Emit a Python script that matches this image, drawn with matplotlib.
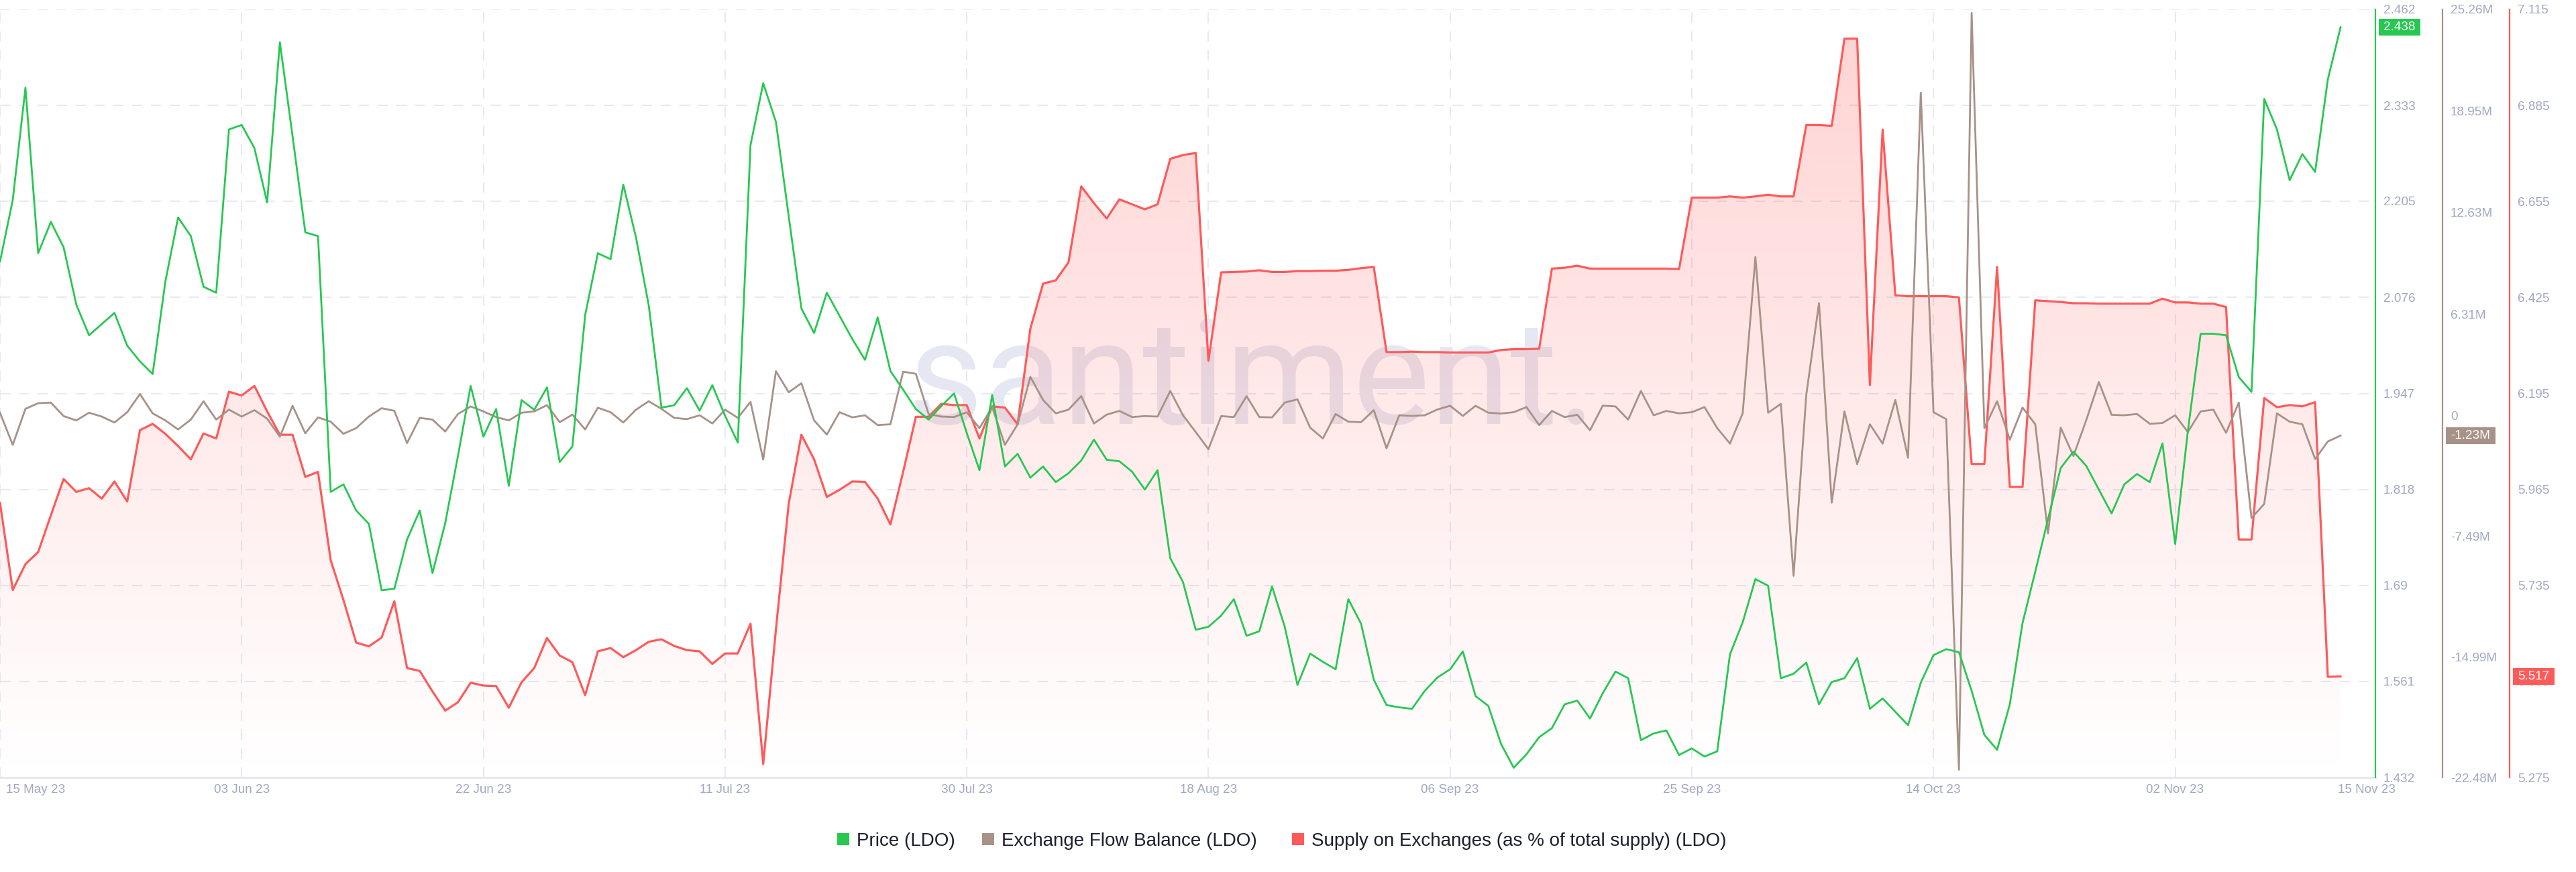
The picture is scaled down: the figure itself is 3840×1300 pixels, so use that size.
import numpy as np
import pandas as pd
import matplotlib
matplotlib.use("Agg")
import matplotlib.pyplot as plt
import matplotlib.dates as mdates
import matplotlib.transforms as mtransforms
from matplotlib.patches import Rectangle

# ---------------- data ----------------
start_date = "2023-05-15"
end_date = "2023-11-15"

price = [
    2.124, 2.206, 2.357, 2.135, 2.177, 2.143, 2.066, 2.025, 2.040, 2.055,
    2.011, 1.990, 1.973, 2.097, 2.183, 2.158, 2.090, 2.082, 2.301, 2.307,
    2.276, 2.203, 2.418, 2.292, 2.163, 2.158, 1.815, 1.825, 1.790, 1.772,
    1.683, 1.685, 1.751, 1.790, 1.706, 1.773, 1.863, 1.957, 1.889, 1.926,
    1.823, 1.938, 1.925, 1.955, 1.855, 1.876, 2.052, 2.135, 2.127, 2.227,
    2.156, 2.065, 1.928, 1.931, 1.954, 1.924, 1.958, 1.917, 1.881, 2.280,
    2.363, 2.311, 2.185, 2.061, 2.028, 2.082, 2.051, 2.020, 1.992, 2.049,
    1.977, 1.952, 1.926, 1.912, 1.930, 1.947, 1.894, 1.844, 1.945, 1.849,
    1.866, 1.834, 1.849, 1.828, 1.840, 1.857, 1.885, 1.858, 1.856, 1.842,
    1.818, 1.844, 1.726, 1.694, 1.630, 1.634, 1.649, 1.671, 1.622, 1.628,
    1.688, 1.634, 1.556, 1.598, 1.587, 1.577, 1.671, 1.638, 1.563, 1.529,
    1.526, 1.524, 1.548, 1.566, 1.577, 1.601, 1.541, 1.528, 1.477, 1.445,
    1.463, 1.486, 1.498, 1.530, 1.535, 1.511, 1.545, 1.574, 1.565, 1.482,
    1.491, 1.495, 1.462, 1.471, 1.460, 1.467, 1.597, 1.640, 1.698, 1.689,
    1.565, 1.571, 1.586, 1.530, 1.560, 1.565, 1.592, 1.524, 1.538, 1.520,
    1.502, 1.559, 1.596, 1.604, 1.600, 1.548, 1.489, 1.469, 1.530, 1.639,
    1.708, 1.778, 1.847, 1.869, 1.850, 1.818, 1.786, 1.825, 1.839, 1.828,
    1.880, 1.745, 1.897, 2.027, 2.027, 2.025, 1.969, 1.949, 2.342, 2.301,
    2.233, 2.268, 2.244, 2.368, 2.438,
]

exchange_flow_m = [
    0.19, -1.81, 0.43, 0.78, 0.82, -0.02, -0.29, 0.19, -0.05, -0.42,
    0.22, 1.35, 0.15, -0.29, -0.85, -0.24, 0.90, -0.24, 0.38, -0.05,
    0.35, -0.18, -1.30, 0.62, -1.09, -0.10, -0.37, -1.12, -0.77, -0.05,
    0.47, 0.31, -1.70, -0.13, -0.24, -0.98, 0.11, 0.58, 0.27, -0.08,
    -0.29, 0.19, 0.27, 0.66, -0.40, 0.07, -0.85, 0.50, 0.22, -0.42,
    0.38, 0.90, 0.43, -0.13, -0.21, 0.03, -0.48, 0.38, -0.13, 0.86,
    -2.72, 2.77, 1.46, 2.02, -0.29, -1.17, 0.22, -0.10, 0.03, -0.58,
    -0.53, 2.74, 2.61, 0.11, -0.05, -0.08, 0.22, -0.77, 0.54, -1.81,
    -0.53, 2.42, 0.98, 0.15, 0.38, 1.22, -0.48, 0.07, 0.30, -0.08,
    -0.02, -0.05, 1.54, 0.03, -1.01, -2.08, -0.02, -0.08, 1.22, -0.08,
    -0.10, 0.82, 1.02, -0.74, -1.41, 0.11, -0.37, -0.40, 0.35, -2.02,
    0.03, -0.01, 0.03, 0.39, 0.62, -0.01, 0.62, 0.19, 0.14, 0.22,
    0.54, -0.58, 0.30, -0.08, 0.06, -0.90, 0.63, 0.58, -0.24, 1.54,
    0.03, 0.30, 0.15, 0.22, 0.54, -0.77, -1.73, 0.15, 9.87, 0.19,
    0.74, -9.95, 1.30, 7.00, -5.40, 0.27, -3.01, -0.53, -1.73, 0.98,
    -2.61, 20.09, 0.22, -0.21, -22.00, 25.04, -0.77, 0.90, -1.49, 0.51,
    -0.53, -7.31, -0.74, -2.50, -0.29, 2.10, 0.06, 0.03, 0.11, -0.50,
    -0.45, 0.03, -1.01, 0.27, 0.38, -1.06, 0.82, -6.36, -5.48, 0.15,
    -0.37, -0.53, -2.69, -1.60, -1.23,
]

supply_pct = [
    5.933, 5.724, 5.786, 5.815, 5.903, 5.990, 5.959, 5.968, 5.943, 5.984,
    5.936, 6.107, 6.122, 6.098, 6.069, 6.037, 6.099, 6.087, 6.199, 6.190,
    6.213, 6.152, 6.096, 6.096, 5.995, 6.007, 5.795, 5.700, 5.598, 5.589,
    5.610, 5.697, 5.537, 5.530, 5.481, 5.435, 5.455, 5.502, 5.495, 5.494,
    5.442, 5.503, 5.537, 5.609, 5.567, 5.551, 5.472, 5.577, 5.585, 5.563,
    5.580, 5.600, 5.606, 5.590, 5.580, 5.577, 5.547, 5.572, 5.572, 5.643,
    5.307, 5.630, 5.930, 6.096, 6.037, 5.947, 5.964, 5.984, 5.983, 5.943,
    5.881, 6.007, 6.139, 6.139, 6.170, 6.167, 6.167, 6.087, 6.164, 6.161,
    6.121, 6.350, 6.458, 6.466, 6.509, 6.691, 6.651, 6.614, 6.660, 6.648,
    6.636, 6.648, 6.757, 6.766, 6.771, 6.273, 6.485, 6.486, 6.487, 6.490,
    6.486, 6.486, 6.488, 6.488, 6.489, 6.489, 6.491, 6.495, 6.498, 6.294,
    6.294, 6.295, 6.294, 6.294, 6.293, 6.293, 6.293, 6.293, 6.299, 6.301,
    6.301, 6.302, 6.494, 6.496, 6.501, 6.494, 6.494, 6.494, 6.494, 6.494,
    6.494, 6.494, 6.493, 6.664, 6.664, 6.664, 6.667, 6.664, 6.667, 6.671,
    6.667, 6.667, 6.838, 6.838, 6.836, 7.045, 7.045, 6.215, 6.827, 6.430,
    6.428, 6.428, 6.428, 6.428, 6.425, 6.026, 6.026, 6.498, 5.971, 5.971,
    6.418, 6.416, 6.414, 6.411, 6.411, 6.410, 6.410, 6.410, 6.410, 6.410,
    6.422, 6.413, 6.413, 6.410, 6.410, 6.402, 5.845, 5.845, 6.184, 6.162,
    6.167, 6.164, 6.174, 5.516, 5.517,
]

price_ticks = [1.432, 1.561, 1.69, 1.818, 1.947, 2.076, 2.205, 2.333, 2.462]
price_tick_labels = ["1.432", "1.561", "1.69", "1.818", "1.947", "2.076", "2.205", "2.333", "2.462"]
flow_ticks = [-22.48, -14.99, -7.49, 0.0, 6.31, 12.63, 18.95, 25.26]
flow_tick_labels = ["-22.48M", "-14.99M", "-7.49M", "0", "6.31M", "12.63M", "18.95M", "25.26M"]
supply_ticks = [5.275, 5.505, 5.735, 5.965, 6.195, 6.425, 6.655, 6.885, 7.115]
supply_tick_labels = ["5.275", "5.505", "5.735", "5.965", "6.195", "6.425", "6.655", "6.885", "7.115"]
date_ticks = ["2023-05-15", "2023-06-03", "2023-06-22", "2023-07-11", "2023-07-30",
              "2023-08-18", "2023-09-06", "2023-09-25", "2023-10-14", "2023-11-02",
              "2023-11-15"]
date_tick_labels = ["15 May 23", "03 Jun 23", "22 Jun 23", "11 Jul 23", "30 Jul 23",
                    "18 Aug 23", "06 Sep 23", "25 Sep 23", "14 Oct 23", "02 Nov 23",
                    "15 Nov 23"]
series_names = ["Price (LDO)", "Exchange Flow Balance (LDO)",
                "Supply on Exchanges (as % of total supply) (LDO)"]
last_price_label = "2.438"
last_flow_label = "-1.23M"
last_supply_label = "5.517"

# ---------------- style ----------------
GREEN = "#27c852"
BROWN = "#a89187"
RED = "#ff5a5a"
TICK = "#a0a8c4"
GRID = "#e7e9f3"
TEXT = "#1c1f30"

plt.rcParams["font.family"] = ["Liberation Sans", "DejaVu Sans"]

W, H = 3840, 1300
AX_L, AX_R, AX_T, AX_B = 0, 3541, 14, 1159

fig = plt.figure(figsize=(W / 100, H / 100), dpi=100)
fig.patch.set_facecolor("white")
rect = [AX_L / W, 1 - AX_B / H, (AX_R - AX_L) / W, (AX_B - AX_T) / H]
ax_s = fig.add_axes(rect)
ax_f = ax_s.twinx()
ax_p = ax_s.twinx()
for a in (ax_f, ax_p):
    a.patch.set_visible(False)

dates = pd.date_range(start_date, end_date, freq="D")
xnum = mdates.date2num(dates)
px_per_day = 18.962
x_min = xnum[0]
x_max = xnum[0] + (AX_R - AX_L) / px_per_day

s_lo, s_hi = supply_ticks[0], supply_ticks[-1]

# grid
for v in supply_ticks[1:]:
    ax_s.axhline(v, color=GRID, lw=1.5, ls=(0, (7.5, 6)), zorder=0)
for d in date_ticks[:-1]:
    ax_s.axvline(mdates.date2num(pd.Timestamp(d)), color=GRID, lw=1.5,
                 ls=(0, (7.5, 6)), zorder=0)

# watermark
ax_s.text(0.527, 0.46, "santiment.", transform=ax_s.transAxes, ha="center",
          va="baseline", fontsize=156, family=["Roboto", "DejaVu Sans"],
          fontweight="normal", color="#e5e8f2", zorder=0.5)

# supply gradient area
poly = ax_s.fill_between(xnum, supply_pct, s_lo, facecolor="none",
                         edgecolor="none")
clip = poly.get_paths()[0]
grad = np.zeros((256, 1, 4))
grad[..., 0] = 1.0
grad[..., 1] = 0.353
grad[..., 2] = 0.353
grad[:, 0, 3] = np.linspace(0.0, 0.27, 256)
im = ax_s.imshow(grad, extent=[xnum[0], xnum[-1], s_lo, s_hi], origin="lower",
                 aspect="auto", interpolation="bilinear", zorder=1)
im.set_clip_path(clip, transform=ax_s.transData)
ax_s.plot(xnum, supply_pct, color=RED, lw=2.3, zorder=3, solid_joinstyle="round")

ax_f.plot(xnum, exchange_flow_m, color=BROWN, lw=2.0, zorder=3, solid_joinstyle="round")
ax_p.plot(xnum, price, color=GREEN, lw=2.0, zorder=3, solid_joinstyle="round")

# limits
ax_s.set_xlim(x_min, x_max)
ax_s.set_ylim(s_lo, s_hi)
ax_f.set_ylim(flow_ticks[0], flow_ticks[-1])
ax_p.set_ylim(price_ticks[0], price_ticks[-1])
ax_s.set_xticks([])

# spines / ticks
spine_specs = [(ax_p, GREEN, 0), (ax_f, BROWN, 100), (ax_s, RED, 200)]
for a, col, off in spine_specs:
    for side in ("top", "left", "bottom"):
        a.spines[side].set_visible(False)
    a.yaxis.tick_right()
    a.spines["right"].set_visible(True)
    a.spines["right"].set_position(("axes", 1 + off / (AX_R - AX_L)))
    a.spines["right"].set_color(col)
    a.spines["right"].set_linewidth(1.6)
    a.tick_params(axis="y", length=0, pad=8.5, labelsize=13.6, labelcolor=TICK)
ax_s.spines["bottom"].set_visible(True)
ax_s.spines["bottom"].set_color("#e3e6ef")
ax_s.spines["bottom"].set_linewidth(2.0)

ax_p.set_yticks(price_ticks)
ax_p.set_yticklabels(price_tick_labels)
ax_f.set_yticks(flow_ticks)
ax_f.set_yticklabels(flow_tick_labels)
ax_s.set_yticks(supply_ticks)
ax_s.set_yticklabels(supply_tick_labels)

# date labels
btrans = mtransforms.blended_transform_factory(ax_s.transData, ax_s.transAxes)
for i, (d, lab) in enumerate(zip(date_ticks, date_tick_labels)):
    xv = mdates.date2num(pd.Timestamp(d))
    if i == 0:
        ax_s.text(xv + 0.5, -0.0165, lab, transform=btrans, ha="left", va="center",
                  fontsize=13.6, color=TICK, clip_on=False)
    elif i == len(date_ticks) - 1:
        ax_s.text(xv - 0.2, -0.0165, lab, transform=btrans, ha="left", va="center",
                  fontsize=13.6, color=TICK, clip_on=False)
    else:
        ax_s.text(xv, -0.0165, lab, transform=btrans, ha="center", va="center",
                  fontsize=13.6, color=TICK, clip_on=False)


# last value tags
def tag(ax, val, text, color, left_px, width_px):
    ydisp = ax.transData.transform((x_min, val))[1]
    fig.add_artist(Rectangle((left_px / W, (ydisp - 12.5) / H), width_px / W, 25 / H,
                             transform=fig.transFigure, facecolor=color,
                             edgecolor="none", zorder=5))
    fig.text((left_px + 7) / W, ydisp / H, text, color="white", fontsize=13.6,
             ha="left", va="center", zorder=6)


tag(ax_p, price[-1], last_price_label, GREEN, 3546, 62)
tag(ax_f, exchange_flow_m[-1], last_flow_label, BROWN, 3646, 74)
tag(ax_s, supply_pct[-1], last_supply_label, RED, 3746, 62)

# legend
leg_y = 1251
legend_items = [(GREEN, 1248, series_names[0]), (BROWN, 1464, series_names[1]),
                (RED, 1926, series_names[2])]
for col, xpx, name in legend_items:
    fig.add_artist(Rectangle((xpx / W, (H - leg_y - 9) / H), 18 / W, 18 / H,
                             transform=fig.transFigure, facecolor=col,
                             edgecolor="none"))
    fig.text((xpx + 29) / W, (H - leg_y) / H, name, color=TEXT, fontsize=20,
             ha="left", va="center_baseline")

fig.savefig("out.png", dpi=100, facecolor="white")
